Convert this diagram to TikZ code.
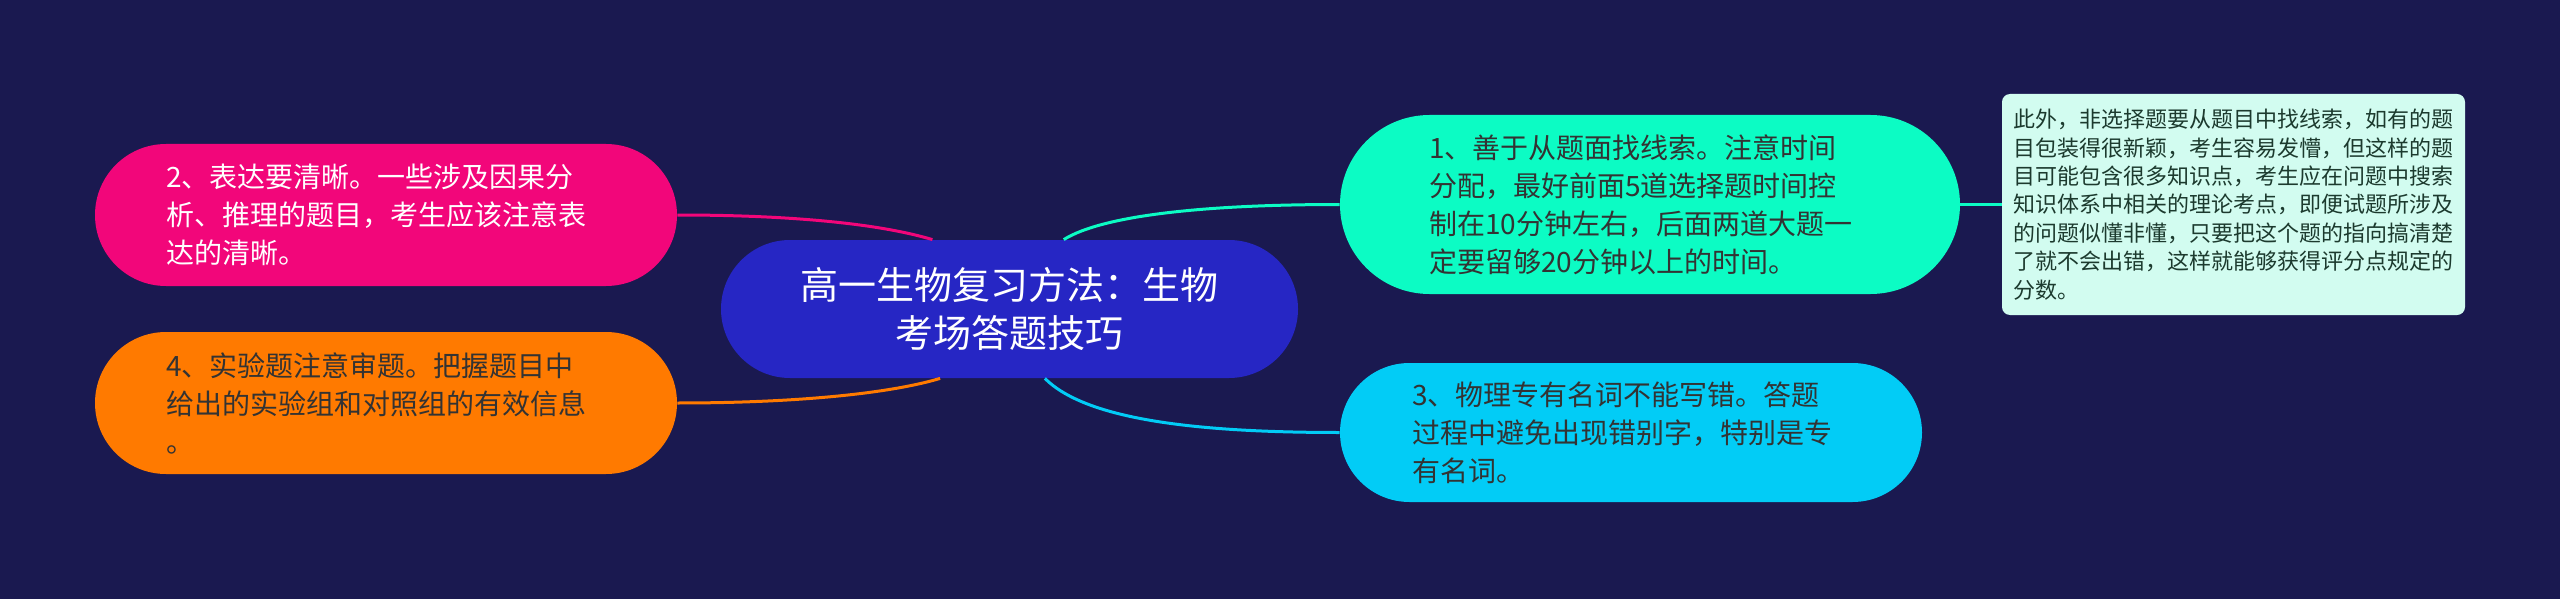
\documentclass[tikz,border=0pt]{standalone}
\usepackage{fontspec}
\setmainfont{Noto Sans CJK SC}
\definecolor{bgnavy}{RGB}{26,25,80}
\definecolor{rootblue}{RGB}{38,38,196}
\definecolor{hotpink}{RGB}{242,6,122}
\definecolor{deeporange}{RGB}{255,122,0}
\definecolor{mintgreen}{RGB}{12,252,196}
\definecolor{skycyan}{RGB}{2,204,246}
\definecolor{notefill}{RGB}{210,252,240}
\definecolor{notetext}{RGB}{28,58,46}
\begin{document}
\begin{tikzpicture}[x=0.5pt,y=-0.5pt,
  pill/.style={inner ysep=0pt,align=left,text=black!80,
               font=\fontsize{14}{19}\selectfont},
  link/.style={line width=1.5pt}]
\fill[bgnavy] (0,0) rectangle (2560,599);
\useasboundingbox (0,0) rectangle (2560,599);
\node[pill,inner xsep=0pt,align=center,fill=rootblue,text=white,
      font=\fontsize{19}{24}\selectfont,
      minimum width=288.5pt,minimum height=69pt,rounded corners=34.5pt]
  (root) at (1009.5,309) {高一生物复习方法：生物\\考场答题技巧};
\node[pill,fill=hotpink,text=white,inner xsep=35.5pt,text width=220pt,
      minimum height=71pt,rounded corners=35.5pt]
  (expr) at (386,215)
  {2、表达要清晰。一些涉及因果分\\析、推理的题目，考生应该注意表\\达的清晰。};
\node[pill,fill=deeporange,inner xsep=35.5pt,text width=220pt,
      minimum height=71pt,rounded corners=35.5pt]
  (exper) at (386,403)
  {4、实验题注意审题。把握题目中\\给出的实验组和对照组的有效信息\\。};
\node[pill,fill=mintgreen,inner xsep=44.5pt,text width=221pt,
      minimum height=89.5pt,rounded corners=44.75pt]
  (clue) at (1650,204.5)
  {1、善于从题面找线索。注意时间\\分配，最好前面5道选择题时间控\\制在10分钟左右，后面两道大题一\\定要留够20分钟以上的时间。};
\node[pill,fill=skycyan,inner xsep=36pt,text width=219pt,
      minimum height=69.5pt,rounded corners=34.75pt]
  (term) at (1631,432.5)
  {3、物理专有名词不能写错。答题\\过程中避免出现错别字，特别是专\\有名词。};
\node[pill,fill=notefill,text=notetext,font=\fontsize{11}{14.2}\selectfont,
      inner xsep=5.5pt,text width=220.5pt,
      minimum height=110.5pt,rounded corners=4pt]
  (note) at (2233.5,204.5)
  {此外，非选择题要从题目中找线索，如有的题\\目包装得很新颖，考生容易发懵，但这样的题\\目可能包含很多知识点，考生应在问题中搜索\\知识体系中相关的理论考点，即便试题所涉及\\的问题似懂非懂，只要把这个题的指向搞清楚\\了就不会出错，这样就能够获得评分点规定的\\分数。};
\draw[link,hotpink] (root.138) .. controls +(-50,-15) and +(120,0) .. (expr.east);
\draw[link,deeporange] (root.225) .. controls +(-50,15) and +(120,0) .. (exper.east);
\draw[link,mintgreen] (root.52) .. controls +(40,-25) and +(-130,0) .. (clue.west);
\draw[link,skycyan] (root.297) .. controls +(40,40) and +(-150,0) .. (term.west);
\draw[link,mintgreen] (clue.east) -- (note.west);
\end{tikzpicture}
\end{document}
